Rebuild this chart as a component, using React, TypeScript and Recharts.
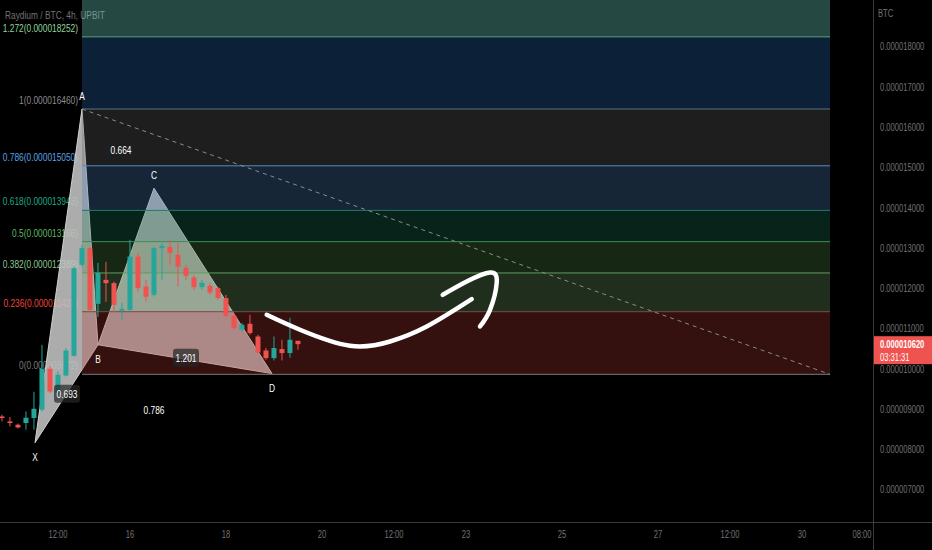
import React from "react";
import {
  ComposedChart,
  Bar,
  Scatter,
  XAxis,
  YAxis,
  ReferenceArea,
  ReferenceLine,
  Polygon,
  Curve,
} from "recharts";

// time is hours from the 16th 00:00, prices are in 1e-6 BTC
const candleRows: [number, number, number, number, number][] = [
  // t, open, high, low, close
  [-64, 8.826, 8.868, 8.702, 8.787],
  [-60, 8.702, 8.811, 8.578, 8.663],
  [-56, 8.62, 8.65, 8.53, 8.553],
  [-52, 8.663, 8.95, 8.496, 8.794],
  [-48, 8.787, 9.439, 8.496, 9.017],
  [-44, 8.993, 10.605, 8.95, 10.01],
  [-40, 10.01, 10.067, 9.407, 9.447],
  [-36, 9.407, 9.943, 9.323, 9.861],
  [-32, 9.844, 10.524, 9.819, 10.464],
  [-28, 10.333, 12.548, 10.315, 12.509],
  [-24, 12.591, 13.087, 12.548, 13.005],
  [-20, 13.005, 13.045, 11.432, 11.474],
  [-16, 11.623, 12.64, 11.3, 12.392],
  [-12, 12.218, 12.665, 11.672, 12.136],
  [-8, 12.136, 12.176, 11.424, 11.598],
  [-4, 11.449, 11.648, 11.226, 11.499],
  [0, 11.474, 13.211, 11.432, 12.796],
  [4, 12.796, 12.888, 11.921, 12.012],
  [8, 12.052, 12.218, 11.68, 11.797],
  [12, 11.846, 13.045, 11.804, 13.005],
  [16, 13.005, 13.136, 12.218, 13.062],
  [20, 13.037, 13.211, 12.591, 12.888],
  [24, 12.839, 13.136, 12.052, 12.548],
  [28, 12.516, 12.591, 12.218, 12.318],
  [32, 12.275, 12.342, 11.97, 12.037],
  [36, 12.037, 12.218, 11.97, 12.144],
  [40, 12.069, 12.136, 11.846, 11.903],
  [44, 12.012, 12.052, 11.722, 11.764],
  [48, 11.764, 11.846, 11.293, 11.325],
  [52, 11.325, 11.392, 10.978, 11.02],
  [56, 10.978, 11.144, 10.935, 11.102],
  [60, 11.127, 11.35, 10.854, 10.896],
  [64, 10.811, 10.854, 10.382, 10.414],
  [68, 10.464, 10.524, 10.233, 10.275],
  [72, 10.275, 10.811, 10.216, 10.524],
  [76, 10.499, 10.73, 10.216, 10.4],
  [80, 10.4, 11.275, 10.283, 10.73],
  [84, 10.705, 10.705, 10.481, 10.62],
];

const lastPrice = 10.62;
const lastPriceText = "0.000010620";
const countdownText = "03:31:31";

const fibLevels = [0, 0.236, 0.382, 0.5, 0.618, 0.786, 1, 1.272, 1.414];
const fibPrices = [9.872, 11.427, 12.389, 13.166, 13.943, 15.05, 16.46, 18.252, 19.187];
const fibStart = -24;
const fibEnd = 350;

const patternNames = ["X", "A", "B", "C", "D"];
const patternHours = [-47.5, -24, -16, 12, 71];
const patternPrices = [8.174, 16.46, 10.605, 14.494, 9.89];

const plainRatios = [
  { t: -4.5, p: 15.444, text: "0.664" },
  { t: 12, p: 8.99, text: "0.786" },
];
const boxedRatios = [
  { t: -31.5, p: 9.39, text: "0.693" },
  { t: 28, p: 10.283, text: "1.201" },
];

const arrowCurveHours = [68.35, 85, 110, 130, 148.35, 170.85];
const arrowCurvePrices = [11.35, 10.978, 10.58, 10.687, 11.06, 11.74];
const arrowHeadHours = [156.35, 168.35, 180, 183.35, 180, 175];
const arrowHeadPrices = [11.846, 12.176, 12.4, 12.144, 11.474, 11.06];

const tickHours = [-36, 0, 48, 96, 132, 168, 216, 264, 300, 336, 366];
const tickLabels = ["12:00", "16", "18", "20", "12:00", "23", "25", "27", "12:00", "30", "08:00"];
const priceTicks = [7, 8, 9, 10, 11, 12, 13, 14, 15, 16, 17, 18];

const GREEN = "#26a69a";
const RED = "#ef5350";
const AXIS_TEXT = "#727272";
const FONT = "'Liberation Sans', Arial, sans-serif";
const SQUEEZE = 0.76;

// band fills are drawn at 0.3 opacity over the black background
const bandFills = ["#ad352f", "#6b9964", "#498543", "#1b7857", "#497fb7", "#646464", "#286eb7", "#7ff0dc"];
const lineColors = ["#7a7a7a", "#7c4a44", "#5c9e5c", "#3c8c5a", "#1f7a6a", "#5a8cbf", "#5e6e80", "#5fa08a"];
const labelColors = ["#7a7a7a", "#f0453e", "#8bc98e", "#5cb860", "#1ea888", "#5aa0e0", "#8a8a8a", "#8fd49a"];

const candles = candleRows.map(([t, open, high, low, close]) => ({ t, open, high, low, close }));
const pattern = patternNames.map((name, i) => ({ name, t: patternHours[i], p: patternPrices[i] }));
const arrowCurve = arrowCurveHours.map((t, i) => ({ t, p: arrowCurvePrices[i] }));
const arrowHead = arrowHeadHours.map((t, i) => ({ t, p: arrowHeadPrices[i] }));
const fibTags = fibLevels.slice(0, 8).map((level, i) => ({ t: fibStart, p: fibPrices[i], level, i }));

const fmtPrice = (v: number) => (v / 1e6).toFixed(9);

const Narrow = ({ x, y, anchor = "start", size = 10, fill = "#fff", weight = "normal", children }: any) => (
  <text
    transform={`translate(${x},${y}) scale(${SQUEEZE},1)`}
    textAnchor={anchor}
    fontSize={size}
    fontWeight={weight}
    fill={fill}
    fontFamily={FONT}
  >
    {children}
  </text>
);

const Candle = (props: any) => {
  const { x, y, width, height, payload } = props;
  const top = Math.min(y, y + height);
  const h = Math.abs(height);
  const { open, close, high, low } = payload;
  const color = close >= open ? GREEN : RED;
  const toY = (v: number) => top + ((high - v) / (high - low || 1)) * h;
  const bodyTop = toY(Math.max(open, close));
  const bodyBottom = toY(Math.min(open, close));
  const cx = x + (width || 0) / 2;
  return (
    <g>
      <line x1={cx} x2={cx} y1={top} y2={top + h} stroke={color} strokeWidth={1} />
      <rect x={cx - 2.5} y={bodyTop} width={5} height={Math.max(1.5, bodyBottom - bodyTop)} fill={color} />
    </g>
  );
};

const Empty = () => <g />;

const Letter = (props: any) => {
  const { cx, cy, payload } = props;
  const above = payload.name === "A" || payload.name === "C";
  return (
    <Narrow x={cx} y={above ? cy - 9 : cy + 18} anchor="middle" size={11}>
      {payload.name}
    </Narrow>
  );
};

const PlainRatio = (props: any) => (
  <Narrow x={props.cx} y={props.cy + 4} anchor="middle" size={11}>
    {props.payload.text}
  </Narrow>
);

const BoxedRatio = (props: any) => (
  <g>
    <rect x={props.cx - 13} y={props.cy - 9} width={26} height={18} rx={3} fill="#262626" fillOpacity={0.7} />
    <Narrow x={props.cx} y={props.cy + 4} anchor="middle" size={11}>
      {props.payload.text}
    </Narrow>
  </g>
);

const FibTag = (props: any) => {
  const { cx, cy, payload } = props;
  return (
    <Narrow x={cx - 4} y={cy - 5} anchor="end" size={11} fill={labelColors[payload.i]}>
      {`${payload.level}(${fmtPrice(payload.p)})`}
    </Narrow>
  );
};

const triangle = (lp: any) => (
  <Polygon points={lp.points} fill="#c4c4c4" fillOpacity={0.88} stroke="#d0d0d0" strokeWidth={1} />
);

const XTick = (props: any) => {
  const idx = tickHours.indexOf(props.payload.value);
  return (
    <Narrow x={props.x} y={props.y + 16} anchor="middle" size={10} fill={AXIS_TEXT}>
      {tickLabels[idx] ?? ""}
    </Narrow>
  );
};

const YTick = (props: any) => (
  <Narrow x={props.x + 7} y={props.y + 3.5} size={10} fill={AXIS_TEXT}>
    {fmtPrice(props.payload.value)}
  </Narrow>
);

const PriceTag = (props: any) => {
  const vb = props.viewBox;
  const x = vb.x + vb.width;
  const y = vb.y;
  return (
    <g>
      <rect x={x} y={y - 8} width={59} height={28} fill={RED} />
      <Narrow x={x + 7} y={y + 4} size={10} weight="bold">
        {lastPriceText}
      </Narrow>
      <Narrow x={x + 7} y={y + 17} size={10}>
        {countdownText}
      </Narrow>
    </g>
  );
};

export default function App() {
  return (
    <div style={{ position: "relative", width: 932, height: 550, background: "#000", fontFamily: FONT, overflow: "hidden" }}>
      <style>{"body{margin:0;background:#000}"}</style>
      <div
        style={{
          position: "absolute",
          left: 5,
          top: 9,
          fontSize: 11,
          color: AXIS_TEXT,
          whiteSpace: "nowrap",
          transform: `scaleX(${SQUEEZE})`,
          transformOrigin: "0 0",
        }}
      >
        Raydium / BTC, 4h, UPBIT
      </div>
      <ComposedChart width={932} height={550} data={candles} margin={{ top: 0, right: 0, bottom: 0, left: 0 }}>
        <XAxis
          dataKey="t"
          type="number"
          domain={[-65, 371.5]}
          allowDataOverflow
          ticks={tickHours}
          interval={0}
          axisLine={false}
          tickLine={false}
          tickSize={0}
          tickMargin={0}
          height={28}
          tick={XTick}
        />
        <YAxis
          orientation="right"
          type="number"
          domain={[6.205, 19.167]}
          allowDataOverflow
          ticks={priceTicks}
          interval={0}
          axisLine={false}
          tickLine={false}
          tickSize={0}
          tickMargin={0}
          width={59}
          tick={YTick}
        />

        <Scatter data={fibTags} dataKey="p" shape={FibTag} isAnimationActive={false} zIndex={5} />

        <Scatter data={pattern.slice(0, 3)} dataKey="p" shape={Empty} line={triangle} isAnimationActive={false} zIndex={10} />
        <Scatter data={pattern.slice(2, 5)} dataKey="p" shape={Empty} line={triangle} isAnimationActive={false} zIndex={10} />

        {bandFills.map((fill, i) => (
          <ReferenceArea
            key={"band" + i}
            x1={fibStart}
            x2={fibEnd}
            y1={fibPrices[i]}
            y2={fibPrices[i + 1]}
            fill={fill}
            fillOpacity={0.3}
            stroke="none"
            ifOverflow="hidden"
            zIndex={20}
          />
        ))}
        {lineColors.map((color, i) => (
          <ReferenceLine
            key={"fib" + i}
            segment={[
              { x: fibStart, y: fibPrices[i] },
              { x: fibEnd, y: fibPrices[i] },
            ]}
            stroke={color}
            strokeWidth={1}
            zIndex={25}
          />
        ))}
        <ReferenceLine
          segment={[
            { x: patternHours[1], y: patternPrices[1] },
            { x: fibEnd, y: fibPrices[0] },
          ]}
          stroke="#8a8a8a"
          strokeDasharray="4 4"
          strokeWidth={1}
          zIndex={25}
        />

        <Bar dataKey={(d: any) => [d.low, d.high]} barSize={5} shape={Candle} isAnimationActive={false} zIndex={30} />

        <Scatter
          data={arrowCurve}
          dataKey="p"
          shape={Empty}
          line={<Curve type="natural" stroke="#ffffff" strokeWidth={4.5} strokeLinecap="round" fill="none" />}
          isAnimationActive={false}
          zIndex={40}
        />
        <Scatter
          data={arrowHead}
          dataKey="p"
          shape={Empty}
          line={<Curve type="natural" stroke="#ffffff" strokeWidth={4.5} strokeLinecap="round" strokeLinejoin="round" fill="none" />}
          isAnimationActive={false}
          zIndex={40}
        />

        <Scatter data={pattern} dataKey="p" shape={Letter} isAnimationActive={false} zIndex={50} />
        <Scatter data={plainRatios} dataKey="p" shape={PlainRatio} isAnimationActive={false} zIndex={50} />
        <Scatter data={boxedRatios} dataKey="p" shape={BoxedRatio} isAnimationActive={false} zIndex={50} />

        <ReferenceLine y={lastPrice} stroke="none" label={PriceTag} zIndex={60} />
      </ComposedChart>
      <div style={{ position: "absolute", left: 0, top: 522, width: 932, height: 1, background: "#3a3a3a" }} />
      <div style={{ position: "absolute", left: 873, top: 0, width: 1, height: 550, background: "#3a3a3a" }} />
      <div
        style={{
          position: "absolute",
          left: 878,
          top: 8,
          fontSize: 10,
          color: AXIS_TEXT,
          transform: `scaleX(${SQUEEZE})`,
          transformOrigin: "0 0",
        }}
      >
        BTC
      </div>
    </div>
  );
}
